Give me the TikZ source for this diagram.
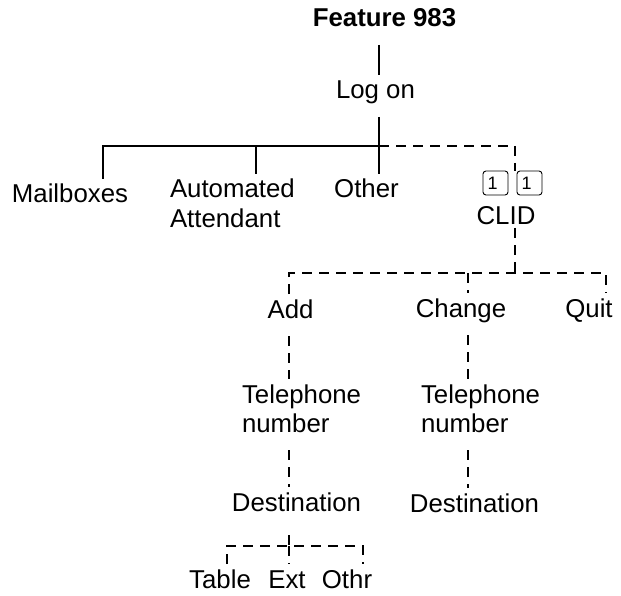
\documentclass[tikz,border=0pt]{standalone}
\usepackage{fontspec}
\setmainfont{Liberation Sans}
\usetikzlibrary{calc}

\begin{document}
\begin{tikzpicture}[x=1pt,y=-1pt,
		lbl/.style={font=\fontsize{25.8}{29}\selectfont, inner sep=0pt, outer sep=5pt},
		one/.style={lbl, anchor=base, text height=19pt, text depth=13pt},
		two/.style={lbl, align=left, anchor=base west, text depth=13pt},
		keycap/.style={draw, rounded corners=3pt, line width=0.9pt, text width=16pt, align=left,
			inner xsep=4.5pt, inner ysep=0pt, minimum height=24pt, outer sep=0pt,
			font=\fontsize{18}{19}\selectfont},
		solidtree/.style={line width=1.2pt},
		dashtree/.style={line width=1.1pt, dash pattern=on 10pt off 7pt}]
		\useasboundingbox (0,0) rectangle (621,596);
		%%%%% LABELS %%%%%
		\node[one, font=\fontsize{25.8}{29}\selectfont\bfseries] (feat) at (384.5,27) {Feature 983};
		\node[one] (logon) at (375.5,99) {Log on};
		
		\node[one] (mail) at (70,203) {Mailboxes};
		\node[two] (auto) at (165,227) {Automated\\Attendant};
		\node[one] (other) at (366.5,198) {Other};
		
		\node[keycap] (key1) at (495.5,183) {1};
		\node[keycap] (key2) at (529.5,183) {1};
		\node[one, text depth=0pt, outer sep=3pt] (clid) at (506,225) {CLID};
		
		\node[one] (add) at (290.5,318) {Add};
		\node[one] (change) at (461,317) {Change};
		\node[one] (quit) at (589,317) {Quit};
		
		\node[two] (tel1) at (237,432) {Telephone\\number};
		\node[two] (tel2) at (416,432) {Telephone\\number};
		\node[one, text depth=19pt] (dest1) at (296.5,511) {Destination};
		\node[one] (dest2) at (474.5,512) {Destination};
		
		\node[one] (table) at (220,588) {Table};
		\node[one] (ext) at (287,588) {Ext};
		\node[one] (othr) at (347,588) {Othr};
		
		%%%%% BRANCH POINTS %%%%%
		\coordinate (jlog) at (379,146);
		\coordinate (jmail) at (103,146);
		\coordinate (jauto) at (256,146);
		\coordinate (jclid) at (515,146);
		\coordinate (jopt) at (515,273);
		\coordinate (jadd) at (289,273);
		\coordinate (jchg) at (468,273);
		\coordinate (jquit) at (606,273);
		\coordinate (jdest) at (289,546);
		\coordinate (jtab) at (227,546);
		\coordinate (joth) at (363,546);
		
		%%%%% SOLID PART %%%%%
		\draw[solidtree] (feat.south -| jlog) -- (logon.north -| jlog);
		\draw[solidtree] (logon.south -| jlog) -- (other.north -| jlog);
		\draw[solidtree] (jmail |- mail.north) -- (jmail) -- (jlog);
		\draw[solidtree] (jauto) -- (jauto |- auto.north);
		
		%%%%% DASHED PART %%%%%
		\draw[dashtree] (jlog) -- (jclid) -- (jclid |- key1.north);
		\draw[dashtree] (clid.south -| jopt) -- (jopt);
		\draw[dashtree] (jadd |- add.north) -- (jadd) -- (jquit) -- (jquit |- quit.north);
		\draw[dashtree] (jchg) -- (jchg |- change.north);
		
		\draw[dashtree] (add.south -| jadd) -- (tel1.north -| jadd);
		\draw[dashtree] (tel1.south -| jadd) -- (dest1.north -| jadd);
		\draw[dashtree] (change.south -| jchg) -- (tel2.north -| jchg);
		\draw[dashtree] (tel2.south -| jchg) -- (dest2.north -| jchg);
		
		\draw[dashtree] (dest1.south -| jdest) -- (jdest);
		\draw[dashtree] (jtab |- table.north) -- (jtab) -- (joth) -- (joth |- othr.north);
		\draw[dashtree] (jdest) -- (jdest |- ext.north);
\end{tikzpicture}
\end{document}
